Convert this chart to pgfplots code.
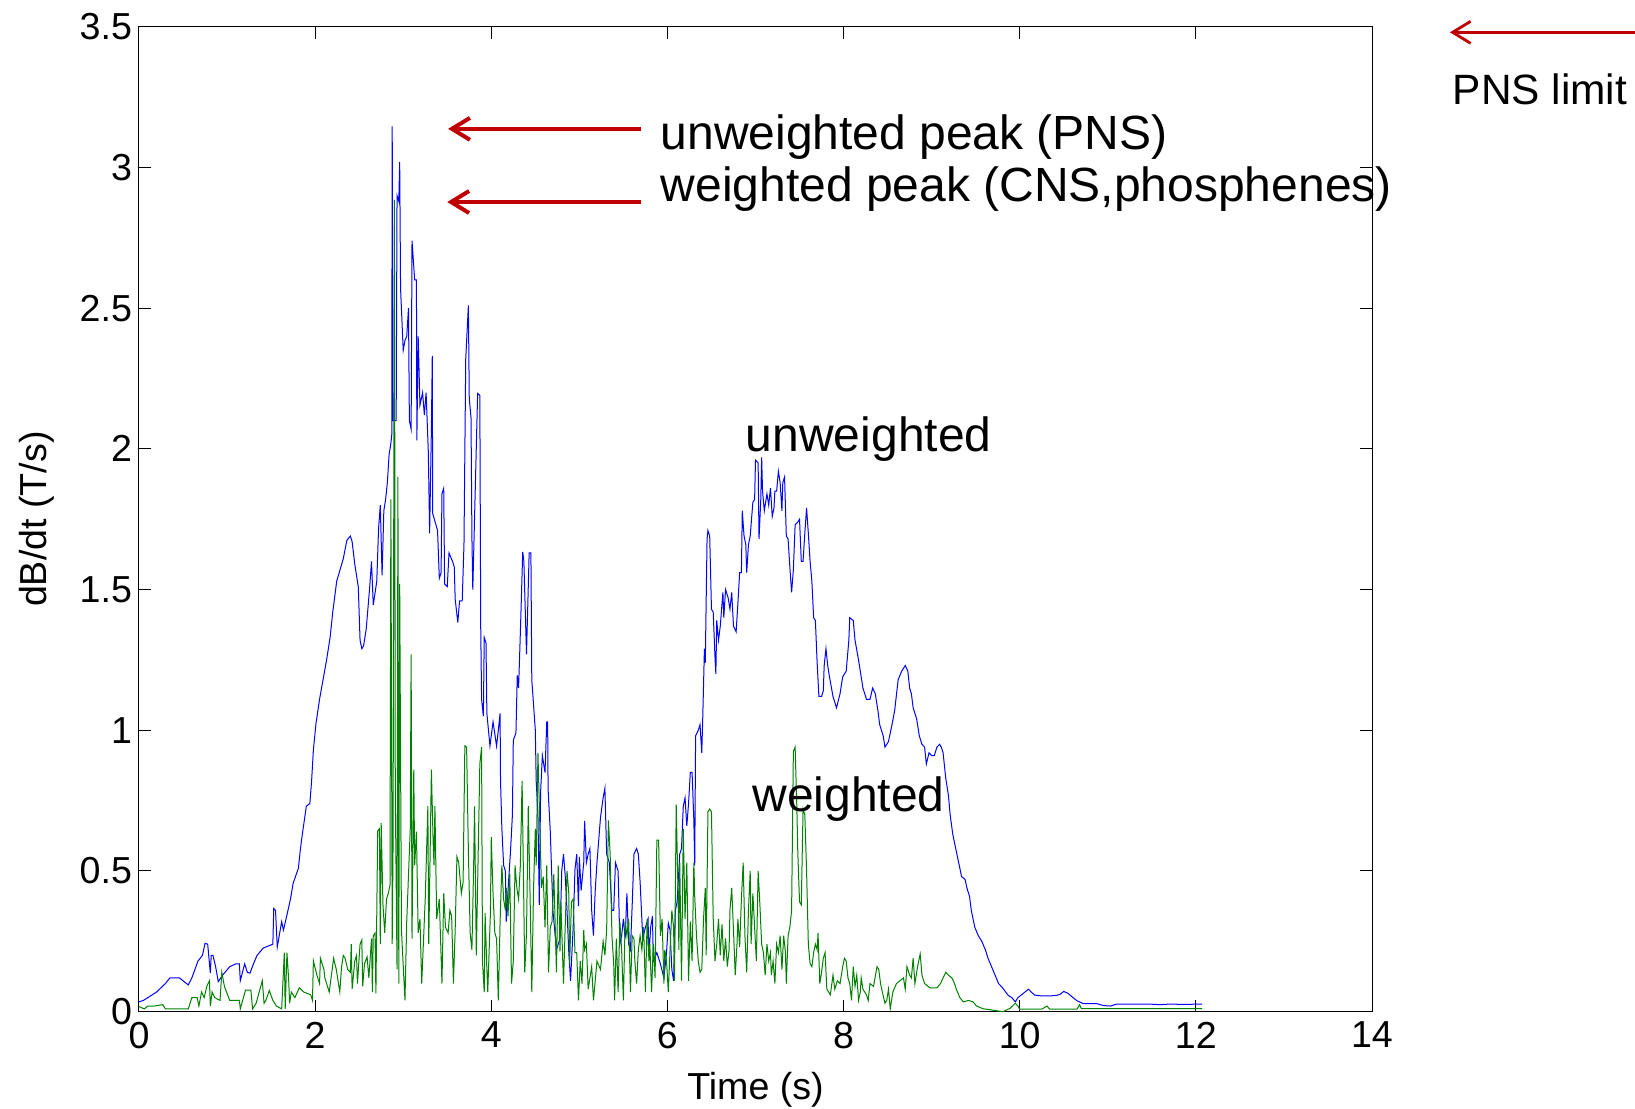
\documentclass[border=0pt]{standalone}
\usepackage{fontspec}
\setmainfont{Liberation Sans}
\usepackage{pgfplots}
\pgfplotsset{compat=1.18}
\usetikzlibrary{arrows.meta}
\definecolor{mblue}{rgb}{0,0,1}
\definecolor{mgreen}{rgb}{0,0.5,0}
\definecolor{arrred}{RGB}{192,0,0}
\begin{document}
\begin{tikzpicture}
\begin{axis}[
  at={(0,0)}, anchor=south west,
  scale only axis, width=616.5pt, height=492.5pt,
  xmin=0, xmax=14, ymin=0, ymax=3.5,
  xtick={0,2,...,14}, ytick={0,0.5,...,3.5},
  tick align=inside, major tick length=6pt,
  axis line style={line width=0.5pt},
  every tick/.style={black, line width=0.5pt},
  /pgf/number format/assume math mode=true,
  ticklabel style={font=\fontsize{18.8}{21}\selectfont},
  xticklabel style={yshift=-1.5pt},
  xlabel={Time (s)}, ylabel={dB/dt (T/s)},
  label style={font=\fontsize{18.8}{21}\selectfont},
  xlabel style={at={(axis description cs:0.5,-0.0792)}, anchor=center},
  ylabel style={at={(axis description cs:-0.0828,0.5)}, anchor=center, rotate=0},
  clip=false,
]
\addplot[mblue, line width=0.5pt, mark=none] coordinates {
(0.00,0.035) (0.05,0.04) (0.10,0.05) (0.20,0.07) (0.30,0.10) (0.35,0.12) (0.46,0.12) (0.50,0.11) (0.56,0.095) (0.60,0.12)
(0.67,0.18) (0.72,0.20) (0.75,0.243) (0.78,0.24) (0.81,0.137) (0.82,0.20) (0.84,0.20) (0.87,0.16) (0.90,0.107) (0.95,0.13)
(1.03,0.16) (1.10,0.17) (1.14,0.17) (1.15,0.11) (1.20,0.17) (1.23,0.14) (1.26,0.137) (1.30,0.17) (1.34,0.20) (1.41,0.226)
(1.52,0.24) (1.53,0.367) (1.55,0.36) (1.57,0.23) (1.62,0.32) (1.64,0.29) (1.68,0.344) (1.72,0.40) (1.75,0.456) (1.81,0.51)
(1.83,0.57) (1.85,0.62) (1.90,0.73) (1.94,0.74) (1.96,0.82) (1.98,0.93) (2.01,1.025) (2.05,1.11) (2.09,1.18) (2.13,1.25)
(2.17,1.33) (2.20,1.42) (2.245,1.53) (2.32,1.61) (2.36,1.675) (2.40,1.69) (2.42,1.67) (2.45,1.59) (2.49,1.51) (2.51,1.32)
(2.53,1.29) (2.55,1.30) (2.58,1.36) (2.62,1.51) (2.64,1.60) (2.66,1.445) (2.70,1.53) (2.72,1.716) (2.74,1.80) (2.76,1.55)
(2.78,1.78) (2.80,1.82) (2.82,1.88) (2.84,1.98) (2.86,2.02) (2.87,2.05) (2.875,3.146) (2.885,2.10) (2.92,2.10) (2.93,2.90)
(2.95,2.88) (2.96,3.02) (2.97,2.57) (3.00,2.35) (3.02,2.385) (3.04,2.40) (3.06,2.50) (3.07,2.10) (3.09,2.07) (3.10,2.74)
(3.13,2.60) (3.15,2.60) (3.155,2.03) (3.17,2.40) (3.19,2.155) (3.22,2.20) (3.24,2.12) (3.26,2.20) (3.285,1.99) (3.30,1.70)
(3.32,2.07) (3.33,2.33) (3.335,1.77) (3.39,1.71) (3.41,1.54) (3.43,1.56) (3.44,1.84) (3.46,1.86) (3.47,1.52) (3.50,1.51)
(3.52,1.63) (3.56,1.60) (3.58,1.58) (3.59,1.466) (3.62,1.383) (3.64,1.46) (3.67,1.46) (3.69,1.66) (3.71,2.32) (3.74,2.51)
(3.75,2.18) (3.77,2.11) (3.78,1.69) (3.79,1.50) (3.845,2.197) (3.87,2.19) (3.88,1.37) (3.89,1.11) (3.91,1.05) (3.92,1.33)
(3.94,1.31) (3.95,1.06) (3.985,0.944) (4.02,1.03) (4.06,0.944) (4.08,1.00) (4.10,1.06) (4.105,0.82) (4.12,0.653) (4.14,0.52)
(4.16,0.50) (4.17,0.32) (4.19,0.43) (4.22,0.58) (4.24,0.70) (4.25,0.965) (4.28,0.99) (4.295,1.195) (4.31,1.15) (4.33,1.345)
(4.357,1.634) (4.37,1.60) (4.40,1.27) (4.43,1.63) (4.45,1.63) (4.46,1.18) (4.48,1.09) (4.50,1.00) (4.51,0.82) (4.53,0.70)
(4.545,0.38) (4.56,0.78) (4.58,0.91) (4.61,0.85) (4.63,1.03) (4.64,1.03) (4.645,0.79) (4.67,0.64) (4.70,0.36) (4.74,0.22)
(4.78,0.26) (4.80,0.50) (4.82,0.56) (4.84,0.48) (4.86,0.36) (4.88,0.21) (4.90,0.11) (4.93,0.30) (4.95,0.504) (4.97,0.56)
(4.99,0.375) (5.00,0.55) (5.02,0.43) (5.05,0.53) (5.06,0.678) (5.08,0.53) (5.10,0.56) (5.12,0.58) (5.14,0.36) (5.16,0.27)
(5.18,0.43) (5.20,0.53) (5.24,0.69) (5.27,0.76) (5.29,0.794) (5.31,0.56) (5.34,0.53) (5.37,0.36) (5.39,0.36) (5.41,0.53)
(5.44,0.50) (5.46,0.24) (5.48,0.27) (5.50,0.33) (5.52,0.26) (5.54,0.42) (5.56,0.24) (5.58,0.22) (5.60,0.38) (5.62,0.56)
(5.65,0.58) (5.67,0.56) (5.69,0.46) (5.72,0.26) (5.75,0.30) (5.78,0.33) (5.79,0.20) (5.81,0.30) (5.83,0.34) (5.84,0.18)
(5.88,0.21) (5.92,0.17) (5.96,0.12) (5.99,0.21) (6.01,0.315) (6.03,0.29) (6.05,0.15) (6.07,0.11) (6.09,0.36) (6.11,0.39)
(6.14,0.56) (6.16,0.58) (6.18,0.73) (6.20,0.76) (6.22,0.66) (6.24,0.74) (6.26,0.85) (6.28,0.85) (6.30,0.68) (6.31,0.52)
(6.32,0.98) (6.35,1.00) (6.37,1.02) (6.39,0.92) (6.40,1.03) (6.42,1.29) (6.43,1.24) (6.45,1.68) (6.46,1.71) (6.48,1.69)
(6.50,1.43) (6.52,1.42) (6.54,1.26) (6.55,1.20) (6.56,1.39) (6.58,1.32) (6.60,1.37) (6.63,1.49) (6.64,1.40) (6.66,1.50)
(6.69,1.47) (6.71,1.43) (6.73,1.49) (6.75,1.37) (6.78,1.35) (6.80,1.45) (6.82,1.56) (6.84,1.56) (6.85,1.78) (6.87,1.69)
(6.89,1.66) (6.90,1.56) (6.92,1.66) (6.94,1.69) (6.97,1.81) (6.99,1.82) (7.00,1.96) (7.03,1.95) (7.04,1.68) (7.06,1.82)
(7.07,1.97) (7.08,1.85) (7.10,1.78) (7.13,1.84) (7.15,1.80) (7.17,1.86) (7.19,1.76) (7.21,1.79) (7.22,1.85) (7.24,1.85)
(7.26,1.92) (7.28,1.88) (7.30,1.78) (7.31,1.88) (7.33,1.90) (7.35,1.69) (7.37,1.68) (7.39,1.58) (7.41,1.49) (7.43,1.57)
(7.45,1.73) (7.48,1.74) (7.50,1.75) (7.52,1.60) (7.54,1.60) (7.56,1.70) (7.58,1.79) (7.60,1.70) (7.62,1.60) (7.64,1.53)
(7.66,1.40) (7.68,1.39) (7.70,1.24) (7.72,1.12) (7.75,1.12) (7.77,1.14) (7.78,1.23) (7.80,1.29) (7.82,1.23) (7.84,1.19)
(7.88,1.12) (7.92,1.08) (7.96,1.13) (7.99,1.19) (8.03,1.21) (8.06,1.32) (8.07,1.40) (8.11,1.39) (8.13,1.32) (8.17,1.25)
(8.20,1.19) (8.22,1.15) (8.26,1.11) (8.30,1.11) (8.33,1.15) (8.36,1.13) (8.39,1.07) (8.41,1.02) (8.45,0.98) (8.47,0.94)
(8.51,0.96) (8.55,1.02) (8.58,1.07) (8.62,1.18) (8.66,1.21) (8.70,1.23) (8.73,1.21) (8.75,1.15) (8.77,1.13) (8.79,1.08)
(8.83,1.04) (8.86,0.98) (8.89,0.95) (8.92,0.94) (8.94,0.88) (8.97,0.92) (9.00,0.91) (9.03,0.91) (9.06,0.94) (9.09,0.95)
(9.11,0.94) (9.13,0.92) (9.16,0.83) (9.19,0.77) (9.21,0.70) (9.24,0.63) (9.28,0.57) (9.30,0.54) (9.34,0.48) (9.38,0.47)
(9.40,0.44) (9.43,0.41) (9.45,0.36) (9.49,0.30) (9.53,0.27) (9.57,0.25) (9.61,0.22) (9.64,0.19) (9.68,0.16) (9.72,0.13)
(9.76,0.10) (9.80,0.087) (9.84,0.07) (9.87,0.058) (9.91,0.05) (9.95,0.035) (9.98,0.05) (10.02,0.06) (10.06,0.07) (10.10,0.08)
(10.13,0.07) (10.17,0.059) (10.25,0.056) (10.34,0.056) (10.42,0.058) (10.46,0.062) (10.50,0.072) (10.55,0.065) (10.59,0.054) (10.65,0.039)
(10.72,0.029) (10.87,0.029) (10.95,0.022) (11.03,0.020) (11.10,0.027) (11.25,0.027) (11.48,0.027) (11.59,0.025) (11.70,0.027) (11.86,0.026)
(12.07,0.027)
};
\addplot[mgreen, line width=0.5pt, mark=none] coordinates {
(0.00,0.018) (0.06,0.01) (0.10,0.02) (0.17,0.02) (0.27,0.025) (0.30,0.01) (0.45,0.01) (0.56,0.01) (0.60,0.05) (0.66,0.05)
(0.68,0.02) (0.71,0.07) (0.74,0.05) (0.77,0.09) (0.80,0.11) (0.81,0.02) (0.83,0.07) (0.86,0.05) (0.92,0.04) (0.94,0.14)
(0.97,0.09) (1.03,0.04) (1.14,0.04) (1.15,0.01) (1.21,0.077) (1.27,0.077) (1.29,0.01) (1.33,0.03) (1.40,0.11) (1.42,0.03)
(1.44,0.04) (1.48,0.075) (1.52,0.04) (1.56,0.02) (1.62,0.01) (1.65,0.21) (1.66,0.01) (1.68,0.21) (1.70,0.11) (1.71,0.03)
(1.73,0.07) (1.77,0.05) (1.82,0.085) (1.87,0.07) (1.95,0.06) (1.97,0.04) (1.98,0.18) (2.02,0.13) (2.05,0.10) (2.06,0.19)
(2.10,0.15) (2.11,0.12) (2.13,0.10) (2.16,0.07) (2.21,0.19) (2.24,0.15) (2.26,0.11) (2.28,0.07) (2.30,0.16) (2.32,0.20)
(2.34,0.19) (2.37,0.15) (2.40,0.14) (2.41,0.24) (2.42,0.08) (2.45,0.18) (2.47,0.20) (2.48,0.10) (2.51,0.24) (2.53,0.255)
(2.54,0.09) (2.56,0.17) (2.59,0.195) (2.61,0.12) (2.64,0.26) (2.65,0.07) (2.66,0.27) (2.68,0.279) (2.69,0.065) (2.71,0.642)
(2.73,0.65) (2.74,0.24) (2.75,0.67) (2.77,0.38) (2.79,0.28) (2.81,0.40) (2.83,0.42) (2.85,0.45) (2.86,1.82) (2.875,0.24)
(2.885,0.60) (2.90,2.885) (2.91,0.78) (2.93,0.15) (2.94,1.90) (2.95,0.10) (2.96,1.52) (2.98,0.29) (3.02,0.04) (3.04,0.32)
(3.08,0.65) (3.09,1.27) (3.10,0.26) (3.12,0.86) (3.13,0.52) (3.15,0.64) (3.17,0.28) (3.19,0.33) (3.21,0.10) (3.25,0.40)
(3.28,0.73) (3.29,0.24) (3.32,0.86) (3.34,0.60) (3.35,0.52) (3.36,0.73) (3.38,0.33) (3.41,0.40) (3.44,0.10) (3.46,0.42)
(3.48,0.30) (3.51,0.28) (3.53,0.36) (3.55,0.34) (3.57,0.10) (3.59,0.29) (3.61,0.55) (3.63,0.53) (3.66,0.42) (3.68,0.46)
(3.70,0.945) (3.72,0.94) (3.74,0.57) (3.76,0.28) (3.78,0.22) (3.80,0.52) (3.81,0.73) (3.83,0.20) (3.87,0.88) (3.89,0.94)
(3.90,0.18) (3.92,0.07) (3.93,0.35) (3.95,0.15) (3.96,0.07) (3.99,0.35) (4.00,0.62) (4.02,0.42) (4.04,0.28) (4.06,0.26)
(4.08,0.04) (4.10,0.32) (4.12,0.52) (4.14,0.40) (4.16,0.36) (4.17,0.44) (4.19,0.34) (4.21,0.49) (4.23,0.10) (4.25,0.18)
(4.27,0.52) (4.29,0.44) (4.31,0.40) (4.33,0.52) (4.35,0.82) (4.36,0.60) (4.38,0.14) (4.40,0.28) (4.42,0.73) (4.44,0.42)
(4.46,0.07) (4.48,0.44) (4.50,0.65) (4.51,0.52) (4.53,0.92) (4.55,0.68) (4.57,0.44) (4.59,0.48) (4.61,0.30) (4.63,0.52)
(4.65,0.14) (4.67,0.30) (4.69,0.32) (4.71,0.49) (4.74,0.14) (4.76,0.52) (4.78,0.214) (4.79,0.39) (4.82,0.10) (4.84,0.31)
(4.86,0.50) (4.88,0.42) (4.89,0.17) (4.91,0.39) (4.93,0.40) (4.95,0.21) (4.97,0.21) (4.99,0.04) (5.01,0.18) (5.03,0.10)
(5.05,0.29) (5.06,0.22) (5.08,0.24) (5.10,0.08) (5.12,0.12) (5.14,0.16) (5.16,0.04) (5.20,0.18) (5.24,0.15) (5.27,0.25)
(5.29,0.20) (5.31,0.29) (5.33,0.68) (5.35,0.56) (5.37,0.27) (5.39,0.17) (5.40,0.04) (5.42,0.26) (5.44,0.07) (5.46,0.32)
(5.48,0.22) (5.50,0.04) (5.52,0.32) (5.54,0.27) (5.56,0.33) (5.58,0.07) (5.60,0.27) (5.62,0.26) (5.63,0.18) (5.65,0.10)
(5.67,0.22) (5.69,0.27) (5.71,0.22) (5.73,0.30) (5.75,0.07) (5.77,0.33) (5.79,0.18) (5.80,0.24) (5.82,0.07) (5.84,0.24)
(5.86,0.12) (5.88,0.61) (5.90,0.61) (5.92,0.27) (5.94,0.33) (5.96,0.10) (5.97,0.22) (5.99,0.18) (6.01,0.07) (6.03,0.22)
(6.05,0.36) (6.07,0.30) (6.08,0.11) (6.10,0.736) (6.12,0.43) (6.13,0.22) (6.14,0.53) (6.16,0.11) (6.18,0.65) (6.20,0.33)
(6.22,0.53) (6.24,0.11) (6.26,0.32) (6.28,0.18) (6.30,0.53) (6.31,0.41) (6.33,0.27) (6.35,0.18) (6.37,0.14) (6.39,0.15)
(6.41,0.33) (6.43,0.44) (6.44,0.20) (6.46,0.71) (6.48,0.72) (6.50,0.71) (6.52,0.33) (6.54,0.18) (6.56,0.24) (6.58,0.33)
(6.60,0.20) (6.62,0.31) (6.64,0.18) (6.66,0.26) (6.68,0.16) (6.70,0.22) (6.71,0.36) (6.73,0.44) (6.75,0.29) (6.77,0.13)
(6.79,0.24) (6.80,0.33) (6.82,0.23) (6.84,0.40) (6.86,0.53) (6.88,0.27) (6.90,0.14) (6.92,0.36) (6.94,0.50) (6.95,0.24)
(6.97,0.42) (6.99,0.30) (7.01,0.18) (7.03,0.50) (7.05,0.38) (7.07,0.24) (7.09,0.21) (7.11,0.13) (7.13,0.24) (7.15,0.18)
(7.17,0.21) (7.18,0.13) (7.20,0.18) (7.22,0.10) (7.24,0.24) (7.26,0.21) (7.28,0.27) (7.30,0.15) (7.32,0.27) (7.34,0.21)
(7.35,0.10) (7.37,0.27) (7.39,0.30) (7.41,0.36) (7.43,0.925) (7.45,0.94) (7.47,0.72) (7.48,0.57) (7.50,0.39) (7.52,0.38)
(7.54,0.72) (7.56,0.70) (7.58,0.50) (7.60,0.24) (7.62,0.17) (7.64,0.16) (7.66,0.21) (7.68,0.24) (7.70,0.22) (7.71,0.28)
(7.73,0.10) (7.75,0.14) (7.77,0.19) (7.79,0.21) (7.81,0.08) (7.85,0.06) (7.88,0.13) (7.90,0.08) (7.93,0.11) (7.96,0.10)
(7.99,0.16) (8.01,0.19) (8.03,0.18) (8.05,0.12) (8.07,0.10) (8.09,0.04) (8.11,0.16) (8.13,0.09) (8.15,0.13) (8.17,0.04)
(8.19,0.07) (8.20,0.12) (8.22,0.08) (8.26,0.06) (8.28,0.04) (8.30,0.10) (8.34,0.09) (8.38,0.16) (8.40,0.15) (8.42,0.10)
(8.44,0.07) (8.47,0.03) (8.49,0.04) (8.51,0.08) (8.53,0.01) (8.56,0.07) (8.60,0.10) (8.64,0.11) (8.68,0.12) (8.70,0.08)
(8.72,0.16) (8.75,0.13) (8.77,0.12) (8.79,0.19) (8.81,0.10) (8.84,0.16) (8.87,0.205) (8.89,0.13) (8.92,0.10) (8.98,0.085)
(9.06,0.085) (9.10,0.10) (9.13,0.12) (9.16,0.14) (9.19,0.13) (9.23,0.12) (9.26,0.10) (9.28,0.08) (9.32,0.05) (9.36,0.035)
(9.42,0.04) (9.47,0.035) (9.51,0.02) (9.59,0.01) (9.65,0.008) (9.70,0.005) (9.81,0.0) (9.89,0.012) (9.95,0.03) (9.98,0.02)
(10.00,0.009) (10.08,0.009) (10.25,0.009) (10.31,0.02) (10.34,0.009) (10.65,0.009) (10.68,0.025) (10.70,0.011) (12.07,0.011)
};
% annotations
\draw[arrred, line width=2pt, -{Straight Barb[length=9pt,width=11pt]}] (axis cs:5.70,3.137) -- (axis cs:3.51,3.137);
\draw[arrred, line width=2pt, -{Straight Barb[length=9pt,width=11pt]}] (axis cs:5.70,2.877) -- (axis cs:3.50,2.877);
\draw[arrred, line width=1.4pt, -{Straight Barb[length=9pt,width=11pt]}] (axis cs:17.0,3.48) -- (axis cs:14.885,3.48);
\node[anchor=base west, inner sep=0pt, font=\fontsize{24}{28}\selectfont] at (axis cs:5.92,3.062) {unweighted peak (PNS)};
\node[anchor=base west, inner sep=0pt, font=\fontsize{24}{28}\selectfont] at (axis cs:5.92,2.88) {weighted peak (CNS,phosphenes)};
\node[anchor=base west, inner sep=0pt, font=\fontsize{24}{28}\selectfont] at (axis cs:6.887,1.99) {unweighted};
\node[anchor=base west, inner sep=0pt, font=\fontsize{24}{28}\selectfont] at (axis cs:6.96,0.713) {weighted};
\node[anchor=base west, inner sep=0pt, font=\fontsize{21.2}{24}\selectfont] at (axis cs:14.914,3.225) {PNS limit};
\end{axis}
\pgfresetboundingbox
\path[use as bounding box] (-69.5pt,-48.65pt) rectangle (748pt,505.85pt);
\end{tikzpicture}
\end{document}
